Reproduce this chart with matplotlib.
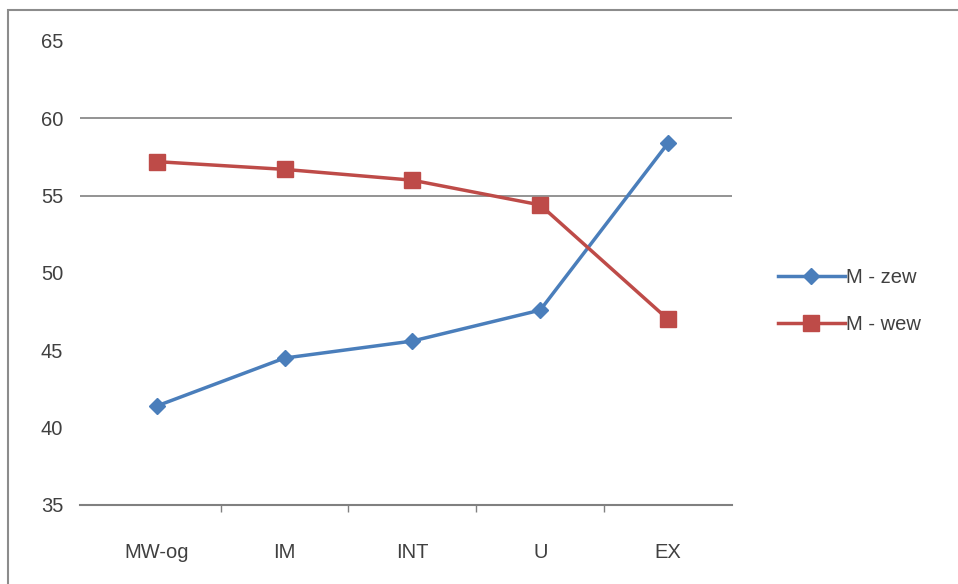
import matplotlib
matplotlib.use('Agg')
import matplotlib.pyplot as plt
from matplotlib.patches import Rectangle
import numpy as np

# data
categories = ['MW-og', 'IM', 'INT', 'U', 'EX']
m_zew = [41.4, 44.5, 45.6, 47.6, 58.4]
m_wew = [57.2, 56.7, 56.0, 54.4, 47.0]
y_ticks = [35, 40, 45, 50, 55, 60, 65]
grid_levels = [55, 60]

blue = '#4A7EBB'
red = '#BE4B48'
plt.rcParams['font.family'] = ['Liberation Sans', 'DejaVu Sans']

fig = plt.figure(figsize=(9.58, 5.84), dpi=100)
fig.patches.append(Rectangle((8 / 958, -0.05), 1.1, 1 - 10 / 584 + 0.05,
                             transform=fig.transFigure, fill=False,
                             edgecolor='#8c8c8c', linewidth=1.5))

ax = fig.add_axes([80 / 958, 1 - 505 / 584, 652 / 958, (505 - 41) / 584])
x = np.arange(len(categories))

for lvl in grid_levels:
    ax.axhline(lvl, color='#808080', linewidth=1.2, zorder=1)

ax.plot(x, m_zew, color=blue, linewidth=2.5, marker='D', markersize=8,
        label='M - zew', zorder=3)
ax.plot(x, m_wew, color=red, linewidth=2.5, marker='s', markersize=11,
        label='M - wew', zorder=3)

ax.set_xlim(-0.6, 4.5)
ax.set_ylim(35, 65)
ax.set_yticks(y_ticks)
ax.set_xticks(x)
ax.set_xticklabels(categories)
ax.set_xticks(x[:-1] + 0.5, minor=True)

for side in ['top', 'right', 'left']:
    ax.spines[side].set_visible(False)
ax.spines['bottom'].set_color('#808080')
ax.spines['bottom'].set_linewidth(1.5)

ax.tick_params(axis='y', length=0, pad=12, labelsize=14.5, labelcolor='#404040')
ax.tick_params(axis='x', which='major', length=0, pad=27, labelsize=14.5,
               labelcolor='#404040')
ax.tick_params(axis='x', which='minor', length=5, width=1, color='#808080',
               direction='out')

fig.legend(loc='center left', bbox_to_anchor=(760 / 958, 1 - 301 / 584),
           frameon=False, fontsize=14.5, handlelength=3.3, labelspacing=1.4,
           handletextpad=0.05, labelcolor='#404040')

plt.savefig('out.png', dpi=100)
